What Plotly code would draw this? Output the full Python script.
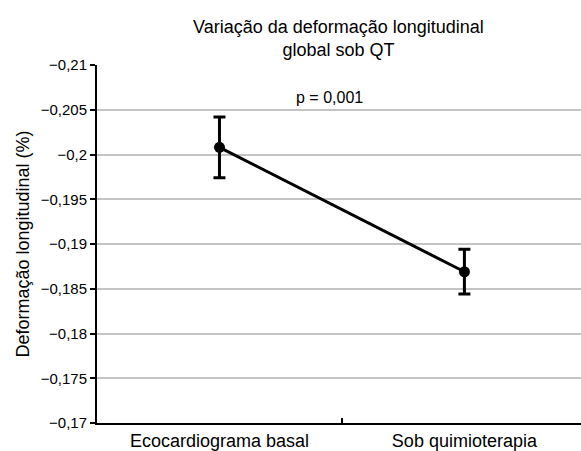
import plotly.graph_objects as go

categories = ["Ecocardiograma basal", "Sob quimioterapia"]
values = [-0.2008, -0.1869]
errors = [0.0034, 0.0025]
ytick_vals = [-0.21, -0.205, -0.2, -0.195, -0.19, -0.185, -0.18, -0.175, -0.17]
ytick_text = ["\u22120,21", "\u22120,205", "\u22120,2", "\u22120,195", "\u22120,19",
              "\u22120,185", "\u22120,18", "\u22120,175", "\u22120,17"]
title_text = "Variação da deformação longitudinal<br>global sob QT"
ylabel = "Deformação longitudinal (%)"
p_text = "p = 0,001"

font_family = "Liberation Sans, Arial, sans-serif"

fig = go.Figure()
fig.add_trace(go.Scatter(
    x=categories, y=values,
    mode="lines+markers",
    line=dict(color="black", width=3),
    marker=dict(color="black", size=11),
    error_y=dict(type="data", array=errors, visible=True, color="black", thickness=3, width=6),
    showlegend=False,
))

fig.update_layout(
    width=581, height=451,
    margin=dict(l=97, r=0, t=65, b=28),
    paper_bgcolor="white", plot_bgcolor="white",
    font=dict(family=font_family, color="black", size=15),
    xaxis=dict(
        type="category", range=[-0.5, 1.476],
        showline=True, linecolor="black", linewidth=2,
        ticks="inside", tickson="boundaries", ticklen=5, tickwidth=2, tickcolor="black",
        showgrid=False, tickfont=dict(size=18), fixedrange=True,
    ),
    yaxis=dict(
        range=[-0.17, -0.21],
        tickvals=ytick_vals, ticktext=ytick_text,
        showline=True, linecolor="black", linewidth=2,
        ticks="outside", ticklen=5, tickwidth=2, tickcolor="black",
        showgrid=True, gridcolor="#c4c4c4", gridwidth=1.5,
        zeroline=False, tickfont=dict(size=15),
        title=dict(text=ylabel, font=dict(size=18), standoff=6),
    ),
    annotations=[
        dict(text=title_text, xref="paper", yref="paper", x=0.498, y=1.075,
             xanchor="center", yanchor="middle", showarrow=False,
             font=dict(size=18)),
        dict(text=p_text, xref="paper", yref="paper", x=0.481, y=0.908,
             xanchor="center", yanchor="middle", showarrow=False, font=dict(size=16)),
    ],
)

fig.write_html("out.html")
